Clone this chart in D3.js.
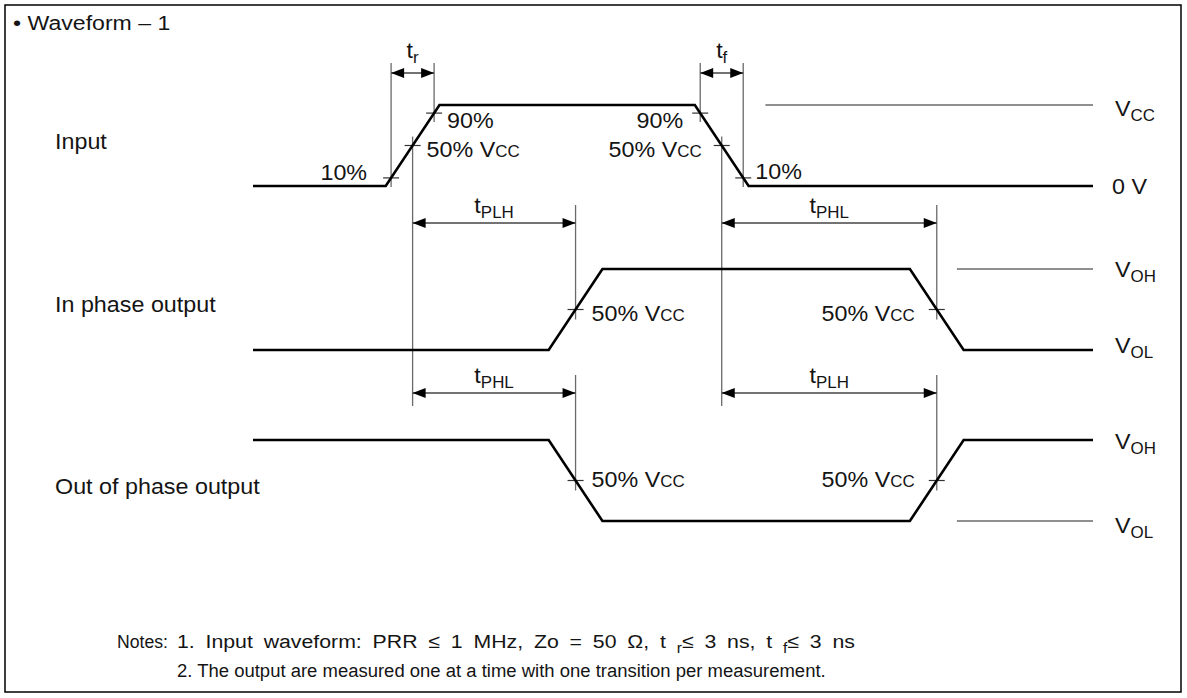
<!DOCTYPE html>
<html><head><meta charset="utf-8">
<script src="https://cdn.jsdelivr.net/npm/d3@7"></script>
<style>
body{margin:0;background:#fff}
svg{display:block}
text{font-family:"Liberation Sans",Arial,Helvetica,sans-serif;fill:#141414}
</style>
</head><body>
<svg id="c" width="1187" height="698"></svg>
<script>
// ---------------- data ----------------
const titleText = "\u2022 Waveform \u2013 1";
const rowNames = ["Input", "In phase output", "Out of phase output"];
const inputTimes = [0, 7.9, 11.1, 26.3, 29.5, 50];
const inputLevels = [0, 0, 1, 1, 0, 0];
const inPhaseTimes = [0, 17.6, 20.8, 39.1, 42.3, 50];
const inPhaseLevels = [0, 0, 1, 1, 0, 0];
const outPhaseTimes = [0, 17.6, 20.8, 39.1, 42.3, 50];
const outPhaseLevels = [1, 1, 0, 0, 1, 1];
const thresholds = [0.1, 0.5, 0.9];
const thresholdNames = ["10%", "50%", "90%"];
const refLineStart = [30.5, 41.9, 41.9];
const highLabels = [["V", "CC"], ["V", "OH"], ["V", "OH"]];
const lowLabels = [["0 V", ""], ["V", "OL"], ["V", "OL"]];
const delayNames = [["PLH", "PHL"], ["PHL", "PLH"]];
const noteHead = "Notes:";
const note1 = ["1. Input waveform: PRR \u2264 1 MHz, Zo = 50 \u03A9, t ", "r", "\u2264 3 ns, t ", "f", "\u2264 3 ns"];
const note2 = "2. The output are measured one at a time with one transition per measurement.";

// ---------------- layout ----------------
const FS = 22, SUBFS = 16, SCFS = 16, SX = 1.06;
const LINE_GRAY = "#6a6a6a";
const svg = d3.select("#c");
svg.append("rect").attr("x", 5).attr("y", 5).attr("width", 1176).attr("height", 687)
  .attr("fill", "none").attr("stroke", "#000").attr("stroke-width", 1.5);

const x = d3.scaleLinear().domain([0, 50]).range([253, 1093]);
const rowBase = [186, 350, 521], amp = 81;
const yRow = rowBase.map(b => d3.scaleLinear().domain([0, 1]).range([b, b - amp]));
const rows = [
  {times: inputTimes, levels: inputLevels},
  {times: inPhaseTimes, levels: inPhaseLevels},
  {times: outPhaseTimes, levels: outPhaseLevels}
];

function addText(g, px, py, parts, anchor, size, sx) {
  const t = g.append("text").attr("text-anchor", anchor || "start")
    .attr("transform", `translate(${px},${py}) scale(${sx || SX},1)`)
    .style("font-size", (size || FS) + "px");
  let shift = 0;
  parts.forEach(p => {
    if (typeof p === "string") p = {t: p};
    if (!p.t) return;
    const ts = t.append("tspan").text(p.t);
    if (p.sub) { ts.style("font-size", (p.size || SUBFS) + "px").attr("dy", 5 - shift); shift = 5; }
    else if (p.sc) { ts.style("font-size", SCFS + "px"); if (shift) ts.attr("dy", -shift); shift = 0; }
    else { if (shift) ts.attr("dy", -shift); shift = 0; }
  });
  return t;
}
const vcc = [{t: "50% V"}, {t: "CC", sc: true}];

function transitions(r) {
  const out = [];
  for (let i = 0; i < r.times.length - 1; i++)
    if (r.levels[i] !== r.levels[i + 1]) out.push(i);
  return out;
}
function crossing(ri, seg, p) {
  const r = rows[ri];
  const t0 = r.times[seg], t1 = r.times[seg + 1], l0 = r.levels[seg], l1 = r.levels[seg + 1];
  const t = t0 + (p - l0) / (l1 - l0) * (t1 - t0);
  return {x: x(t), y: yRow[ri](p)};
}

const gLines = svg.append("g");
const gWave = svg.append("g");
const gText = svg.append("g");

// title
addText(gText, 13, 30, [titleText], "start", 21, 1.1);

// rows
const labelY = [149, 312, 494];
const hiY = [116, 277, 449], loY = [194, 353, 533];
rows.forEach((r, ri) => {
  addText(gText, 55, labelY[ri], [rowNames[ri]]);
  const line = d3.line().x(i => x(r.times[i])).y(i => yRow[ri](r.levels[i]));
  gWave.append("path").attr("d", line(d3.range(r.times.length)))
    .attr("fill", "none").attr("stroke", "#000").attr("stroke-width", 2.6).attr("stroke-linejoin", "miter");
  const endLevel = r.levels[r.levels.length - 1];
  const refLevel = 1 - endLevel;
  gLines.append("line").attr("x1", x(refLineStart[ri])).attr("x2", x(50))
    .attr("y1", yRow[ri](refLevel)).attr("y2", yRow[ri](refLevel))
    .attr("stroke", LINE_GRAY).attr("stroke-width", 1.3);
  const hl = highLabels[ri], ll = lowLabels[ri];
  addText(gText, 1115, hiY[ri], [hl[0], {t: hl[1], sub: true}]);
  addText(gText, ll[1] ? 1115 : 1112, loY[ri], [ll[0], {t: ll[1], sub: true}]);
});

function vline(px, y1, y2) {
  gLines.append("line").attr("x1", px).attr("x2", px).attr("y1", y1).attr("y2", y2)
    .attr("stroke", LINE_GRAY).attr("stroke-width", 1.3);
}
function hTick(c) {
  gLines.append("line").attr("x1", c.x - 8).attr("x2", c.x + 8).attr("y1", c.y).attr("y2", c.y)
    .attr("stroke", "#333").attr("stroke-width", 1.2);
}
function arrow(x1, x2, ay, lbl, lblY) {
  gLines.append("line").attr("x1", x1).attr("x2", x2).attr("y1", ay).attr("y2", ay)
    .attr("stroke", "#444").attr("stroke-width", 1.3);
  gLines.append("path").attr("d", `M${x1},${ay}L${x1 + 13},${ay - 5}L${x1 + 13},${ay + 5}Z`).attr("fill", "#000");
  gLines.append("path").attr("d", `M${x2},${ay}L${x2 - 13},${ay - 5}L${x2 - 13},${ay + 5}Z`).attr("fill", "#000");
  addText(gText, (x1 + x2) / 2, lblY, lbl, "middle");
}

// input thresholds
const inTr = transitions(rows[0]);
const rise = thresholds.map(p => crossing(0, inTr[0], p));
const fall = thresholds.map(p => crossing(0, inTr[1], p));
[...rise, ...fall].forEach(hTick);

vline(rise[0].x, 63, rise[0].y + 9);
vline(rise[2].x, 63, rise[2].y + 9);
vline(fall[2].x, 63, fall[2].y + 9);
vline(fall[0].x, 63, fall[0].y + 9);
arrow(rise[0].x, rise[2].x, 73, ["t", {t: "r", sub: true}], 58);
arrow(fall[2].x, fall[0].x, 73, ["t", {t: "f", sub: true}], 58);

addText(gText, rise[0].x - 24, rise[0].y + 2, [thresholdNames[0]], "end");
addText(gText, rise[1].x + 14, rise[1].y + 11.5, vcc, "start");
addText(gText, rise[2].x + 13, rise[2].y + 15, [thresholdNames[2]], "start");
addText(gText, fall[2].x - 17, fall[2].y + 15, [thresholdNames[2]], "end");
addText(gText, fall[1].x - 20, fall[1].y + 11.5, vcc, "end");
addText(gText, fall[0].x + 12, fall[0].y + 1, [thresholdNames[0]], "start");

vline(rise[1].x, rise[1].y - 9, 406);
vline(fall[1].x, fall[1].y - 9, 406);

// output delays
const arrowY = [223, 393];
const lblDy = [11, 6];
[1, 2].forEach((ri, k) => {
  const tr = transitions(rows[ri]);
  const c0 = crossing(ri, tr[0], 0.5), c1 = crossing(ri, tr[1], 0.5);
  [c0, c1].forEach(c => { hTick(c); vline(c.x, arrowY[k] - 18, c.y + 10); });
  arrow(rise[1].x, c0.x, arrowY[k], ["t", {t: delayNames[k][0], sub: true}], arrowY[k] - 10);
  arrow(fall[1].x, c1.x, arrowY[k], ["t", {t: delayNames[k][1], sub: true}], arrowY[k] - 10);
  addText(gText, c0.x + 16, c0.y + lblDy[k], vcc, "start");
  addText(gText, c1.x - 22, c1.y + lblDy[k], vcc, "end");
});

// notes
const NFS = 19;
function fitScale(t, x0, y0, x1) {
  const w = t.node().getBBox().width;
  t.attr("transform", `translate(${x0},${y0}) scale(${(x1 - x0) / w},1)`);
}
const nh = addText(gText, 117, 648, [noteHead], "start", NFS, 1);
fitScale(nh, 117, 648, 168);
const n2 = addText(gText, 177, 677, [note2], "start", NFS, 1);
fitScale(n2, 177, 677, 826);
const N1SX = 1.12;
const n1 = addText(gText, 177, 648, [note1[0], {t: note1[1], sub: true, size: 14}, note1[2], {t: note1[3], sub: true, size: 14}, note1[4]], "start", NFS, N1SX);
{
  const w = n1.node().getBBox().width;
  const spaces = note1.join("").split(" ").length - 1;
  const extra = Math.max(0, ((855 - 177) / N1SX - w) / spaces);
  n1.style("word-spacing", extra + "px");
}
</script>
</body></html>
